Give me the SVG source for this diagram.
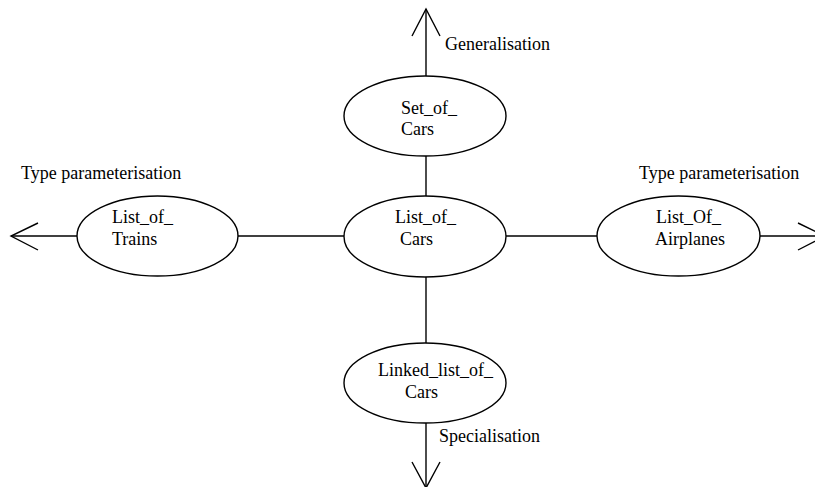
<svg xmlns="http://www.w3.org/2000/svg" width="815" height="487" viewBox="0 0 815 487">
  <style>
    .ln { stroke: #000; stroke-width: 1.4; fill: none; }
    .node ellipse { fill: #fff; stroke: #000; stroke-width: 1.4; }
    text { font-family: "Liberation Serif", "Times New Roman", serif; font-size: 18px; fill: #000; }
  </style>
  <rect width="815" height="487" fill="#fff"/>

  <!-- connectors and open arrowheads -->
  <g id="connectors">
    <line class="ln" x1="426" y1="9" x2="426" y2="76"/>
    <line class="ln" x1="426" y1="156" x2="426" y2="196"/>
    <line class="ln" x1="426" y1="277" x2="426" y2="343"/>
    <line class="ln" x1="426" y1="423" x2="426" y2="487"/>
    <line class="ln" x1="11" y1="236" x2="77" y2="236"/>
    <line class="ln" x1="238" y1="236" x2="344" y2="236"/>
    <line class="ln" x1="506" y1="236" x2="597" y2="236"/>
    <line class="ln" x1="760" y1="236" x2="825" y2="236"/>
    <polyline class="ln" points="412,36 426,9 440,36"/>
    <polyline class="ln" points="412,462 426,488 440,462"/>
    <polyline class="ln" points="38,223 11,236 38,250"/>
    <polyline class="ln" points="798,223 825,236 798,250"/>
  </g>

  <!-- edge labels -->
  <text x="445" y="50">Generalisation</text>
  <text x="439" y="442">Specialisation</text>
  <text x="21" y="179">Type parameterisation</text>
  <text x="639" y="179">Type parameterisation</text>

  <g id="set_of_cars" class="node">
    <ellipse cx="425" cy="116" rx="81" ry="40"/>
    <text x="401" y="114">Set_of_</text>
    <text x="401" y="135">Cars</text>
  </g>

  <g id="list_of_cars" class="node">
    <ellipse cx="425" cy="236.5" rx="81" ry="40.5"/>
    <text x="395" y="223">List_of_</text>
    <text x="400" y="245">Cars</text>
  </g>

  <g id="linked_list_of_cars" class="node">
    <ellipse cx="425" cy="383" rx="81" ry="40"/>
    <text x="378" y="376">Linked_list_of_</text>
    <text x="405" y="398">Cars</text>
  </g>

  <g id="list_of_trains" class="node">
    <ellipse cx="157.5" cy="236" rx="80.5" ry="40"/>
    <text x="112" y="223">List_of_</text>
    <text x="112" y="245">Trains</text>
  </g>

  <g id="list_of_airplanes" class="node">
    <ellipse cx="678.5" cy="236" rx="81.5" ry="40"/>
    <text x="656" y="223">List_Of_</text>
    <text x="655" y="245">Airplanes</text>
  </g>
</svg>
